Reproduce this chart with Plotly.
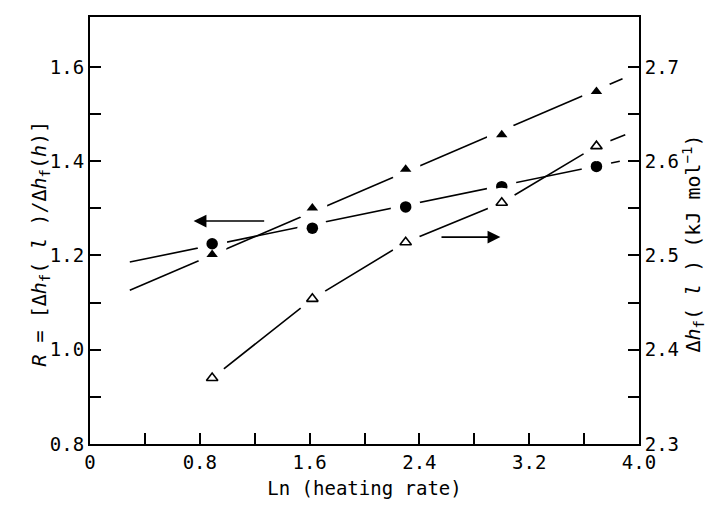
import plotly.graph_objects as go

# ---- data ----
ln_rate = [0.89, 1.62, 2.30, 3.00, 3.69]
R_circle = [1.225, 1.258, 1.303, 1.346, 1.389]          # filled circles, left axis
R_solid_tri = [1.202, 1.301, 1.383, 1.456, 1.548]       # filled triangles, left axis
dh_open_tri = [2.370, 2.454, 2.514, 2.556, 2.616]       # open triangles, right axis (kJ/mol)

# fitted straight lines for R (end points)
fit_circle_x = [0.29, 3.86]
fit_circle_y = [1.186, 1.400]
fit_solid_x = [0.29, 3.88]
fit_solid_y = [1.126, 1.575]
# curve through the open-triangle points, extended slightly past the last one
curve_open_x = ln_rate + [3.90]
curve_open_y = dh_open_tri + [2.628]

# axis ticks
x_ticks = [0, 0.4, 0.8, 1.2, 1.6, 2.0, 2.4, 2.8, 3.2, 3.6, 4.0]
x_ticktext = ["0", "", "0.8", "", "1.6", "", "2.4", "", "3.2", "", "4.0"]
yl_ticks = [0.8, 0.9, 1.0, 1.1, 1.2, 1.3, 1.4, 1.5, 1.6]
yl_ticktext = ["0.8", "", "1.0", "", "1.2", "", "1.4", "", "1.6"]
yr_ticks = [2.3, 2.35, 2.4, 2.45, 2.5, 2.55, 2.6, 2.65, 2.7]
yr_ticktext = ["2.3", "", "2.4", "", "2.5", "", "2.6", "", "2.7"]

# arrows (data coordinates, left axis)
left_arrow = dict(tail_x=1.28, head_x=0.755, y=1.273)
right_arrow = dict(tail_x=2.55, head_x=2.99, y=1.239)

BLACK = "black"
LW = 1.6
HALO = 30
NB = "\u00a0"
MONO = "DejaVu Sans Mono"

fig = go.Figure()

# lines
fig.add_trace(go.Scatter(x=fit_circle_x, y=fit_circle_y, mode="lines",
                         line=dict(color=BLACK, width=LW), showlegend=False, hoverinfo="skip"))
fig.add_trace(go.Scatter(x=fit_solid_x, y=fit_solid_y, mode="lines",
                         line=dict(color=BLACK, width=LW), showlegend=False, hoverinfo="skip"))
fig.add_trace(go.Scatter(x=curve_open_x, y=curve_open_y, mode="lines", yaxis="y2",
                         line=dict(color=BLACK, width=LW), showlegend=False, hoverinfo="skip"))

# white halos that break the lines around every marker
for ys, ax in [(R_circle, "y"), (R_solid_tri, "y"), (dh_open_tri, "y2")]:
    fig.add_trace(go.Scatter(x=ln_rate, y=ys, mode="markers", yaxis=ax,
                             marker=dict(symbol="circle", size=HALO, color="white",
                                         line=dict(width=0)),
                             showlegend=False, hoverinfo="skip"))

# markers
fig.add_trace(go.Scatter(x=ln_rate, y=R_circle, mode="markers", name="R (circles)",
                         marker=dict(symbol="circle", size=11.5, color=BLACK),
                         showlegend=False))
fig.add_trace(go.Scatter(x=ln_rate, y=R_solid_tri, mode="markers", name="R (triangles)",
                         marker=dict(symbol="triangle-up", size=10, color=BLACK),
                         showlegend=False))
fig.add_trace(go.Scatter(x=ln_rate, y=dh_open_tri, mode="markers", yaxis="y2",
                         name="Δh_f(l)",
                         marker=dict(symbol="triangle-up", size=10, color="white",
                                     line=dict(color=BLACK, width=1.6)),
                         showlegend=False))

tick_font = dict(family=MONO, size=19, color=BLACK)
title_font = dict(family=MONO, size=19, color=BLACK)
ytitle_font = dict(family=MONO, size=20, color=BLACK)

left_title = ("<i>R</i> = [Δ<i>h</i><sub>f</sub>(" + NB + "<i>l</i>" + NB + ")/"
              "Δ<i>h</i><sub>f</sub>(<i>h</i>)]")
right_title = ("Δ<i>h</i><sub>f</sub>(" + NB + "<i>l</i>" + NB + ")" + NB +
               "(kJ mol<sup>−1</sup>)")

fig.update_layout(
    width=707, height=499,
    margin=dict(l=82, r=76, t=7, b=63),
    paper_bgcolor="white", plot_bgcolor="white",
    showlegend=False,
    xaxis=dict(range=[0, 4.0], tickmode="array", tickvals=x_ticks, ticktext=x_ticktext,
               ticks="inside", ticklen=11, tickwidth=1.5, tickcolor=BLACK,
               showline=True, linecolor=BLACK, linewidth=1.8, mirror=True,
               showgrid=False, zeroline=False, tickfont=tick_font,
               title=dict(text=NB + NB + "Ln (heating rate)", font=title_font, standoff=10)),
    yaxis=dict(range=[0.8, 1.706], tickmode="array", tickvals=yl_ticks, ticktext=yl_ticktext,
               ticks="inside", ticklen=11, tickwidth=1.5, tickcolor=BLACK,
               showline=True, linecolor=BLACK, linewidth=2, mirror=False,
               showgrid=False, zeroline=False, tickfont=tick_font),
    yaxis2=dict(range=[2.3, 2.753], overlaying="y", side="right",
                tickmode="array", tickvals=yr_ticks, ticktext=yr_ticktext,
                ticks="inside", ticklen=11, tickwidth=1.5, tickcolor=BLACK,
                showline=True, linecolor=BLACK, linewidth=1.8,
                showgrid=False, zeroline=False, tickfont=tick_font),
    annotations=[
        dict(text=left_title, textangle=-90, font=ytitle_font, showarrow=False,
             xref="paper", yref="paper", x=0, y=0.5, xanchor="center", yanchor="middle",
             xshift=-51, yshift=-13),
        dict(text=right_title, textangle=-90, font=ytitle_font, showarrow=False,
             xref="paper", yref="paper", x=1, y=0.5, xanchor="center", yanchor="middle",
             xshift=54, yshift=-13),
        dict(x=left_arrow["head_x"], y=left_arrow["y"], ax=left_arrow["tail_x"], ay=left_arrow["y"],
             xref="x", yref="y", axref="x", ayref="y", text="", showarrow=True,
             arrowhead=2, arrowsize=1.6, arrowwidth=1.6, arrowcolor=BLACK, standoff=0),
        dict(x=right_arrow["head_x"], y=right_arrow["y"], ax=right_arrow["tail_x"], ay=right_arrow["y"],
             xref="x", yref="y", axref="x", ayref="y", text="", showarrow=True,
             arrowhead=2, arrowsize=1.6, arrowwidth=1.6, arrowcolor=BLACK, standoff=0),
    ],
)

fig.write_html("out.html")
